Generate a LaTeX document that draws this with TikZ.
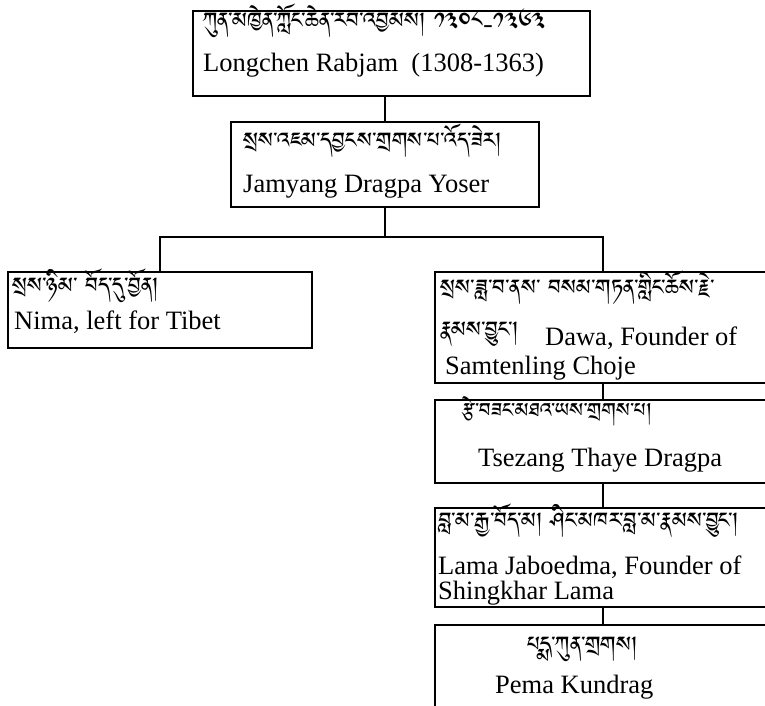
\documentclass[tikz,border=0pt]{standalone}
\usepackage{fontspec}
\setmainfont{Liberation Serif}
\IfFontExistsTF{Jomolhari}{\newfontfamily\tib[Script=Tibetan]{Jomolhari}}{%
 \IfFontExistsTF{Tibetan Machine Uni}{\newfontfamily\tib[Script=Tibetan]{Tibetan Machine Uni}}{%
  \IfFontExistsTF{Noto Serif Tibetan}{\newfontfamily\tib[Script=Tibetan]{Noto Serif Tibetan}}{%
   \newfontfamily\tib{DejaVu Sans}}}}
\begin{document}
\begin{tikzpicture}[x=1pt,y=-1pt,
  box/.style={draw, line width=2.2pt, inner sep=0pt, outer sep=0pt, anchor=north west},
  conn/.style={draw, line width=2pt},
  en/.style={inner sep=0pt, anchor=base west, font=\fontsize{26.5}{26.5}\selectfont},
  tb/.style={inner sep=0pt, anchor=base west, font=\tib\fontsize{27.5}{27.5}\selectfont}]
\useasboundingbox (0,0) rectangle (765,706);
\fill[white] (0,0) rectangle (765,706);
\begin{scope}
\clip (0,0) rectangle (765,706);
% boxes
\node[box, minimum width=397pt, minimum height=85pt] (b1) at (193,11) {};
\node[box, minimum width=308pt, minimum height=85pt] (b2) at (231,122) {};
\node[box, minimum width=304pt, minimum height=76pt] (b3) at (8,272) {};
\node[box, minimum width=336pt, minimum height=111pt] (b4) at (435,272) {};
\node[box, minimum width=336pt, minimum height=83pt] (b5) at (435,400) {};
\node[box, minimum width=336pt, minimum height=99pt] (b6) at (435,508) {};
\node[box, minimum width=336pt, minimum height=110pt] (b7) at (435,625) {};
% connectors
\draw[conn] (b1.south -| b2.north) -- (b2.north);
\draw[conn] (b2.south) -- ++(0,30) coordinate (j);
\draw[conn] (b3.north) |- (j) -| (b4.north);
\draw[conn] (b4.south) -- (b5.north);
\draw[conn] (b5.south) -- (b6.north);
\draw[conn] (b6.south) -- (b7.north);
% texts
\node[tb] (t1a) at (203,34) {ཀུན་མཁྱེན་ཀློང་ཆེན་རབ་འབྱམས། ༡༣༠༨-༡༣༦༣};
\node[en] (t1b) at (203,72) {Longchen Rabjam\ \ (1308-1363)};
\node[tb] (t2a) at (243,153) {སྲས་འཇམ་དབྱངས་གྲགས་པ་འོད་ཟེར།};
\node[en] (t2b) at (243,192) {Jamyang Dragpa Yoser};
\node[tb] (t3a) at (12,298) {སྲས་ཉིམ་ བོད་དུ་བྱོན།};
\node[en] (t3b) at (14,329) {Nima, left for Tibet};
\node[tb] (t4a) at (440,300) {སྲས་ཟླ་བ་ནས་ བསམ་གཏན་གླིང་ཆོས་རྗེ་};
\node[tb] (t4b) at (440,342) {རྣམས་བྱུང་།};
\node[en] (t4c) at (545,345) {Dawa, Founder of};
\node[en] (t4d) at (445,374) {Samtenling Choje};
\node[tb, font=\tib\fontsize{25.5}{25.5}\selectfont] (t5a) at (462,422) {རྩེ་བཟང་མཐའ་ཡས་གྲགས་པ།};
\node[en] (t5b) at (478,466) {Tsezang Thaye Dragpa};
\node[tb] (t6a) at (438,533) {བླ་མ་རྒྱ་བོད་མ། ཤིང་མཁར་བླ་མ་རྣམས་བྱུང་།};
\node[en] (t6b) at (438,574) {Lama Jaboedma, Founder of};
\node[en] (t6c) at (438,599) {Shingkhar Lama};
\node[tb] (t7a) at (527,657) {པདྨ་ཀུན་གྲགས།};
\node[en] (t7b) at (495,693) {Pema Kundrag};
\end{scope}
\end{tikzpicture}
\end{document}
